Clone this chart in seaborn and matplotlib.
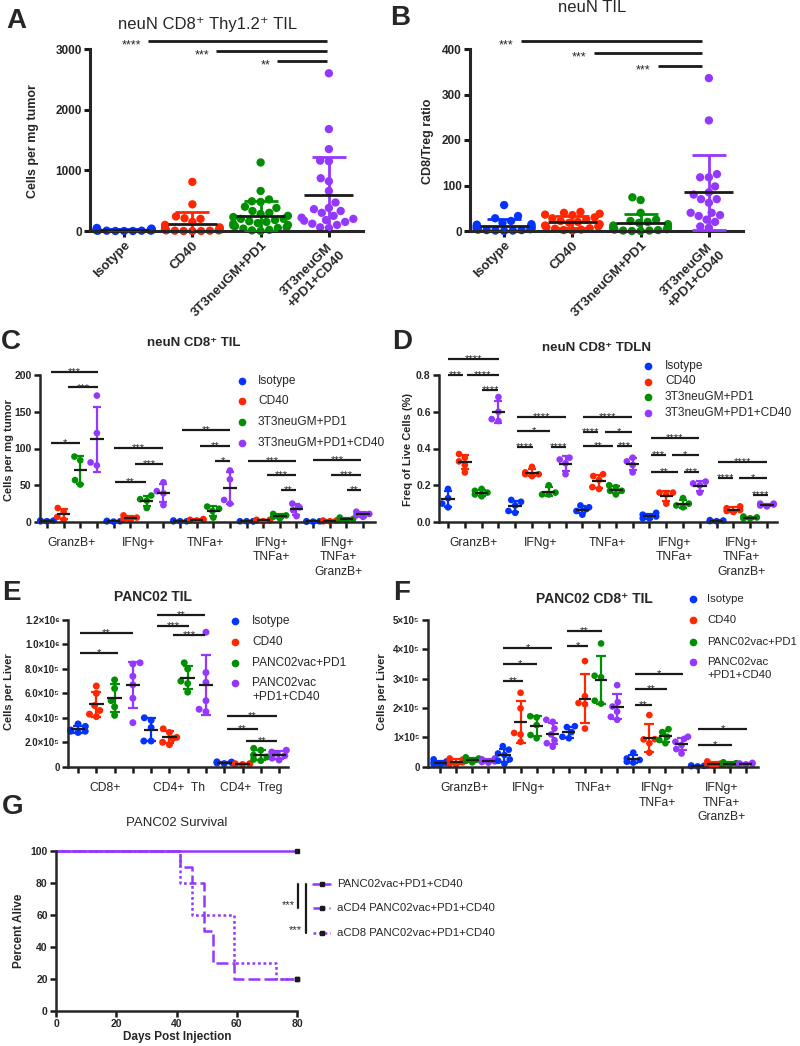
import numpy as np
import pandas as pd
import matplotlib
matplotlib.use("Agg")
import matplotlib.pyplot as plt
from matplotlib.lines import Line2D
import seaborn as sns

sns.set_theme(style="ticks")
plt.rcParams["font.family"] = ["Liberation Sans", "DejaVu Sans"]

W, H = 800, 1046
BLUE, RED, GREEN, PURPLE = "#0433FF", "#FF2600", "#008F00", "#9437FF"

# ---------------------------------------------------------------
# data
# ---------------------------------------------------------------
A_groups = ["Isotype", "CD40", "3T3neuGM+PD1", "3T3neuGM\n+PD1+CD40"]
A_iso = [50, 40, 35, 30, 30, 25, 20, 20, 15, 15, 10, 10, 10, 5, 5, 5, 0, 0, 0, 20, 25, 15]
A_cd40 = [810, 440, 240, 210, 200, 150, 100, 60, 50, 40, 30, 20, 20, 10, 10, 5, 5, 0, 0, 0]
A_pd1 = [1130, 660, 520, 490, 480, 400, 380, 330, 300, 280, 250, 230, 200, 200, 180,
         160, 150, 130, 120, 100, 90, 80, 60, 50, 40, 20, 10, 0]
A_combo = [2600, 1680, 1350, 1160, 1150, 870, 820, 660, 470, 380, 360, 330, 300, 250,
           220, 200, 180, 170, 150, 120, 100, 60, 50]
A_sig = [(0.35, 2.97, 3133, "****"), (1.35, 2.97, 2962, "***"), (2.24, 2.97, 2797, "**")]

B_iso = [57, 33, 28, 22, 18, 15, 14, 12, 10, 10, 8, 8, 6, 5, 5, 4, 3, 2, 2, 1, 1, 0]
B_cd40 = [42, 40, 38, 36, 35, 30, 28, 25, 22, 20, 18, 15, 12, 10, 8, 6, 5, 3, 2, 1]
B_pd1 = [74, 68, 40, 25, 22, 20, 18, 15, 12, 10, 8, 6, 5, 4, 3, 2, 1, 1, 0, 0]
B_combo = [336, 243, 125, 118, 118, 98, 85, 80, 70, 70, 62, 40, 40, 35, 33, 25, 20, 10, 7]
B_sig = [(0.24, 2.9, 418, "***"), (1.31, 2.9, 391, "***"), (2.25, 2.9, 363, "***")]

neu_treat = ["Isotype", "CD40", "3T3neuGM+PD1", "3T3neuGM+PD1+CD40"]
cyto_sets = ["GranzB+", "IFNg+", "TNFa+", "IFNg+\nTNFa+", "IFNg+\nTNFa+\nGranzB+"]

C_iso = [[1, 2, 1, 2], [1, 1, 0.5, 1.5], [1, 1, 2, 1], [1, 1, 1, 1], [0.5, 1, 0.5, 1]]
C_cd40 = [[19, 14, 7, 3], [9, 6, 4, 3], [2, 3, 4, 3, 2], [2, 3, 2, 3, 1], [1, 2, 1, 2]]
C_pd1 = [[89, 84, 57, 51], [36, 31, 29, 19], [21, 18, 15, 6], [11, 9, 7, 5], [6, 4, 3, 2]]
C_combo = [[172, 121, 81, 77], [54, 42, 39, 23], [70, 58, 30, 25], [25, 20, 16, 8], [14, 11, 9, 7]]
C_sig = [(0.22, 3.08, 204.5, "***"), (1.24, 3.08, 183, "***"), (0.22, 1.98, 107, "*"),
         (4.0, 7.0, 101, "***"), (5.29, 7.0, 79, "***"), (4.09, 5.95, 55, "**"),
         (8.12, 11.0, 125, "**"), (9.2, 11.0, 104, "**"), (10.1, 11.0, 83, "*"),
         (12.09, 14.97, 83, "***"), (13.2, 14.97, 64, "***"), (14.07, 14.97, 43, "**"),
         (15.97, 18.9, 84.5, "***"), (17.1, 18.9, 64, "***"), (18.04, 18.9, 43, "**")]

D_iso = [[0.18, 0.13, 0.10, 0.08], [0.12, 0.11, 0.09, 0.05, 0.06], [0.09, 0.08, 0.07, 0.06, 0.04],
         [0.05, 0.04, 0.03, 0.02, 0.02], [0.01, 0.008, 0.005, 0.004]]
D_cd40 = [[0.37, 0.35, 0.33, 0.31, 0.27], [0.30, 0.27, 0.26, 0.25, 0.26], [0.26, 0.25, 0.23, 0.19, 0.18],
          [0.16, 0.16, 0.15, 0.10], [0.085, 0.075, 0.065, 0.06, 0.055]]
D_pd1 = [[0.18, 0.17, 0.16, 0.14, 0.15], [0.20, 0.16, 0.15, 0.15], [0.20, 0.19, 0.17, 0.15, 0.17],
         [0.13, 0.10, 0.09, 0.08], [0.03, 0.025, 0.02, 0.02]]
D_combo = [[0.68, 0.60, 0.56, 0.55], [0.35, 0.34, 0.32, 0.26], [0.35, 0.33, 0.31, 0.27],
           [0.22, 0.21, 0.20, 0.16], [0.10, 0.10, 0.09, 0.085, 0.095]]
D_sig = [(0.0, 3.03, 0.888, "****"), (0.0, 0.9, 0.801, "***"), (1.13, 3.03, 0.801, "****"),
         (2.05, 3.0, 0.719, "****"),
         (4.1, 7.03, 0.570, "****"), (4.1, 6.08, 0.496, "*"), (4.1, 5.06, 0.409, "****"),
         (6.13, 7.03, 0.409, "****"),
         (8.04, 10.96, 0.570, "****"), (8.04, 8.93, 0.489, "****"), (9.35, 10.96, 0.489, "*"),
         (8.04, 9.83, 0.414, "**"), (10.07, 10.96, 0.414, "***"),
         (12.09, 14.95, 0.456, "****"), (12.09, 13.0, 0.365, "***"), (13.34, 14.95, 0.365, "*"),
         (12.09, 13.7, 0.274, "**"), (14.06, 14.95, 0.274, "***"),
         (16.08, 19.0, 0.329, "****"), (16.08, 16.97, 0.238, "****"), (17.33, 19.0, 0.238, "*"),
         (18.17, 19.05, 0.148, "****")]

panc_treat = ["Isotype", "CD40", "PANC02vac+PD1", "PANC02vac\n+PD1+CD40"]
E_sets = ["CD8+", "CD4+  Th", "CD4+  Treg"]
E_iso = [[3.5e5, 3.3e5, 3.0e5, 2.9e5, 2.8e5, 2.9e5], [4.0e5, 3.8e5, 3.2e5, 2.1e5, 2.1e5],
         [4.0e4, 3.5e4, 3.0e4, 2.5e4, 3.8e4]]
E_cd40 = [[6.6e5, 6.0e5, 5.0e5, 4.6e5, 4.3e5, 4.1e5], [3.1e5, 2.8e5, 2.4e5, 2.3e5, 2.0e5, 1.8e5],
          [2.5e4, 2.0e4, 2.2e4, 2.4e4, 1.8e4]]
E_pd1 = [[7.1e5, 6.4e5, 5.4e5, 4.9e5, 4.2e5], [8.5e5, 8.0e5, 7.0e5, 6.8e5, 6.1e5],
         [1.5e5, 1.35e5, 0.95e5, 0.8e5, 0.6e5, 0.5e5]]
E_combo = [[8.5e5, 8.4e5, 7.4e5, 6.7e5, 5.6e5, 3.6e5], [1.1e6, 7.7e5, 6.9e5, 5.4e5, 4.7e5, 4.5e5],
           [1.35e5, 1.2e5, 1.1e5, 0.9e5, 0.7e5, 0.55e5]]
E_yticks = [0, 2e5, 4e5, 6e5, 8e5, 1e6, 1.2e6]
E_ylabels = ["0", "2.0×10⁵", "4.0×10⁵", "6.0×10⁵", "8.0×10⁵", "1.0×10⁶", "1.2×10⁶"]
E_sig = [(0.1, 3.0, 1.096e6, "**"), (0.1, 2.19, 0.933e6, "*"),
         (4.32, 6.95, 1.241e6, "**"), (4.32, 6.08, 1.151e6, "***"), (5.2, 6.95, 1.077e6, "***"),
         (8.16, 10.9, 4.15e5, "**"), (8.16, 9.85, 3.06e5, "**"), (9.2, 10.9, 2.13e5, "**")]

F_iso = [[2.5e4, 1.8e4, 1.2e4, 0.8e4, 0.5e4, 1.5e4], [7.0e4, 5.8e4, 4.5e4, 4.0e4, 2.5e4, 2.0e4, 1.0e4],
         [1.38e5, 1.35e5, 1.18e5, 1.02e5, 0.97e5], [4.8e4, 2.8e4, 2.3e4, 1.7e4, 1.4e4], [4e3, 2e3, 3e3, 1e3]]
F_cd40 = [[2.8e4, 2.4e4, 1.9e4, 1.5e4, 1.0e4, 0.8e4], [2.52e5, 1.99e5, 1.15e5, 1.1e5, 0.85e5],
          [3.6e5, 2.4e5, 2.17e5, 2.13e5, 1.3e5], [1.76e5, 0.93e5, 0.94e5, 0.8e5, 0.48e5],
          [1.8e4, 1.0e4, 0.5e4, 0.3e4]]
F_pd1 = [[3.2e4, 2.8e4, 2.4e4, 2.0e4, 1.5e4], [1.72e5, 1.68e5, 1.42e5, 1.08e5, 0.97e5],
         [4.2e5, 3.1e5, 3.05e5, 2.25e5, 2.15e5], [1.28e5, 1.18e5, 1.02e5, 0.91e5, 0.8e5],
         [1.5e4, 1.2e4, 0.8e4, 0.5e4]]
F_combo = [[2.8e4, 2.5e4, 2.2e4, 2.0e4, 1.8e4, 1.6e4, 1.4e4],
           [1.6e5, 1.53e5, 1.3e5, 1.1e5, 0.9e5, 0.8e5, 0.68e5],
           [2.78e5, 2.2e5, 2.05e5, 1.88e5, 1.7e5, 1.6e5],
           [1.02e5, 0.95e5, 0.85e5, 0.74e5, 0.6e5, 0.45e5], [1.3e4, 1.1e4, 1.0e4, 0.8e4, 0.9e4]]
F_yticks = [0, 1e5, 2e5, 3e5, 4e5, 5e5]
F_ylabels = ["0", "1×10⁵", "2×10⁵", "3×10⁵", "4×10⁵", "5×10⁵"]
F_sig = [(3.91, 6.96, 4.03e5, "*"), (3.91, 6.02, 3.5e5, "*"), (3.91, 5.16, 2.93e5, "**"),
         (7.89, 10.06, 4.63e5, "**"), (7.89, 9.19, 4.13e5, "*"),
         (12.11, 15.09, 3.16e5, "*"), (12.11, 14.1, 2.64e5, "**"), (12.11, 13.17, 2.1e5, "**"),
         (16.02, 19.07, 1.27e5, "*"), (16.02, 18.14, 0.74e5, "*")]

G_labels = ["PANC02vac+PD1+CD40", "aCD4 PANC02vac+PD1+CD40", "aCD8 PANC02vac+PD1+CD40"]
G_days = [[0, 80], [0, 41, 45, 49, 52, 59, 80], [0, 41, 45, 59, 73, 80]]
G_pct = [[100, 100], [100, 90, 80, 50, 30, 20, 20], [100, 80, 60, 30, 20, 20]]

# ---------------------------------------------------------------
# helpers
# ---------------------------------------------------------------
fig = plt.figure(figsize=(W / 100, H / 100), dpi=100)


def make_axes(x0, x1, y_top, y_zero, y_ref, v_ref, xlim, spine_top, lw):
    ax = fig.add_axes([x0 / W, 1 - y_zero / H, (x1 - x0) / W, (y_zero - y_top) / H])
    ax.set_xlim(xlim)
    ax.set_ylim(0, v_ref * (y_zero - y_top) / (y_zero - y_ref))
    sns.despine(ax=ax)
    ax.set_facecolor("none")
    for s in ("left", "bottom"):
        ax.spines[s].set_linewidth(lw)
    ax.spines["left"].set_bounds(0, spine_top)
    ax.tick_params(width=lw, length=4, pad=2, color="k")
    return ax


def long_df(lists, treatments, n_per_set):
    rows = []
    for t, per_set in enumerate(lists):
        for s, vals in enumerate(per_set):
            rows += [(s * n_per_set + t, treatments[t], v) for v in vals]
    return pd.DataFrame(rows, columns=["pos", "treatment", "value"])


def dots(ax, df, palette, size, mean_half, capsize, lw):
    sns.swarmplot(data=df, x="pos", y="value", hue="treatment", palette=palette,
                  native_scale=True, size=size, legend=False, ax=ax, zorder=2, linewidth=0)
    for c in ax.collections:
        c.set_clip_on(False)
    stats = df.groupby("pos").agg(mean=("value", "mean"), sd=("value", "std"),
                                  treatment=("treatment", "first"))
    for pos, r in stats.iterrows():
        ax.errorbar(pos, r["mean"], yerr=r["sd"], color=palette[r["treatment"]],
                    capsize=capsize, elinewidth=lw, capthick=lw, zorder=3)
        ax.plot([pos - mean_half, pos + mean_half], [r["mean"]] * 2, color="k", lw=lw,
                zorder=4, solid_capstyle="butt")
    ax.set_xlabel("")
    ax.set_ylabel("")


def sig_left(ax, bars, lw, fs):
    for x0, x1, y, lab in bars:
        ax.plot([x0, x1], [y, y], color="k", lw=lw, clip_on=False, solid_capstyle="butt")
        ax.annotate(lab, (x0, y), xytext=(-5, -fs * 0.6), textcoords="offset points",
                    ha="right", va="baseline", fontsize=fs)


def sig_above(ax, bars, lw, fs):
    for x0, x1, y, lab in bars:
        ax.plot([x0, x1], [y, y], color="k", lw=lw, clip_on=False, solid_capstyle="butt")
        ax.annotate(lab, ((x0 + x1) / 2, y), xytext=(0, -fs * 0.28), textcoords="offset points",
                    ha="center", va="baseline", fontsize=fs)


def ftext(x, y, s, **kw):
    kw.setdefault("va", "center")
    return fig.text(x / W, 1 - y / H, s, **kw)


def dot_legend(xm, xt, ys, labels, colors, fs, ms, gap=14):
    for y, lab, col in zip(ys, labels, colors):
        fig.add_artist(Line2D([xm / W], [1 - y / H], marker="o", ms=ms, color=col, ls="none"))
        for k, line in enumerate(lab.split("\n")):
            ftext(xt, y + k * gap, line, fontsize=fs)


def group_labels(ax, sets, per, y_px, fs, gap=14.5):
    for s, lab in enumerate(sets):
        cx = s * per + (per - 1) / 2
        for k, line in enumerate(lab.split("\n")):
            ax.annotate(line, (cx, H - (y_px + k * gap)), xycoords=("data", "figure pixels"),
                        ha="center", va="center", fontsize=fs, annotation_clip=False)


pal_neu = dict(zip(neu_treat, [BLUE, RED, GREEN, PURPLE]))
pal_panc = dict(zip(panc_treat, [BLUE, RED, GREEN, PURPLE]))

# ---------------------------------------------------------------
# A
# ---------------------------------------------------------------
ax = make_axes(90, 363, 30, 231, 49, 3000, (-0.5, 3.5), 3000, 2.2)
dfA = long_df([[A_iso], [A_cd40], [A_pd1], [A_combo]], A_groups, 1)
dots(ax, dfA, dict(zip(A_groups, [BLUE, RED, GREEN, PURPLE])), 6, 0.36, 12, 2)
ax.set_yticks([0, 1000, 2000, 3000], ["0", "1000", "2000", "3000"], fontweight="bold", fontsize=8.5)
ax.set_xticks(range(4), A_groups, rotation=45, ha="right", rotation_mode="anchor",
              fontweight="bold", fontsize=9.5, multialignment="center")
sig_left(ax, A_sig, 2, 9)
ftext(33, 141, "Cells per mg tumor", rotation=90, ha="center", fontweight="bold", fontsize=9)
ftext(208, 25, "neuN CD8⁺ Thy1.2⁺ TIL", ha="center", fontsize=12)
ftext(6, 21, "A", fontweight="bold", fontsize=20)

# ---------------------------------------------------------------
# B
# ---------------------------------------------------------------
ax = make_axes(470, 743, 30, 231, 49, 400, (-0.5, 3.5), 400, 2.2)
dfB = long_df([[B_iso], [B_cd40], [B_pd1], [B_combo]], A_groups, 1)
dots(ax, dfB, dict(zip(A_groups, [BLUE, RED, GREEN, PURPLE])), 6, 0.36, 12, 2)
ax.set_yticks([0, 100, 200, 300, 400], ["0", "100", "200", "300", "400"],
              fontweight="bold", fontsize=8.5)
ax.set_xticks(range(4), A_groups, rotation=45, ha="right", rotation_mode="anchor",
              fontweight="bold", fontsize=9.5, multialignment="center")
sig_left(ax, B_sig, 2, 9)
ftext(428, 141, "CD8/Treg ratio", rotation=90, ha="center", fontweight="bold", fontsize=9)
ftext(592, 8, "neuN TIL", ha="center", fontsize=12)
ftext(390, 18, "B", fontweight="bold", fontsize=20)

# ---------------------------------------------------------------
# C
# ---------------------------------------------------------------
ax = make_axes(40, 375, 365, 522, 375, 200, (-0.42, 19.72), 200, 1.8)
dfC = long_df([C_iso, C_cd40, C_pd1, C_combo], neu_treat, 4)
dots(ax, dfC, pal_neu, 4.8, 0.4, 3, 1.6)
ax.set_yticks([0, 50, 100, 150, 200], ["0", "50", "100", "150", "200"], fontweight="bold", fontsize=7.5)
ax.set_xticks(range(20), [""] * 20)
sig_above(ax, C_sig, 1.6, 8)
group_labels(ax, cyto_sets, 4, 543, 8.7)
dot_legend(242, 258, [381, 401.5, 422, 442.5], neu_treat, [BLUE, RED, GREEN, PURPLE], 8.6, 4.5)
ftext(9, 450, "Cells per mg tumor", rotation=90, ha="center", fontweight="bold", fontsize=8)
ftext(194, 343, "neuN CD8⁺ TIL", ha="center", fontweight="bold", fontsize=9.5)
ftext(1, 342, "C", fontweight="bold", fontsize=20)

# ---------------------------------------------------------------
# D
# ---------------------------------------------------------------
ax = make_axes(439, 777, 352, 522, 375, 0.8, (-0.54, 19.6), 0.8, 1.8)
dfD = long_df([D_iso, D_cd40, D_pd1, D_combo], neu_treat, 4)
dots(ax, dfD, pal_neu, 4.8, 0.4, 3, 1.6)
ax.set_yticks([0, 0.2, 0.4, 0.6, 0.8], ["0.0", "0.2", "0.4", "0.6", "0.8"],
              fontweight="bold", fontsize=7.5)
ax.set_xticks(range(20), [""] * 20)
sig_above(ax, D_sig, 1.6, 8)
group_labels(ax, cyto_sets, 4, 543, 8.7)
dot_legend(648, 665, [366, 381.5, 397, 413], neu_treat, [BLUE, RED, GREEN, PURPLE], 8.6, 4.5)
ftext(408, 450, "Freq of Live Cells (%)", rotation=90, ha="center", fontweight="bold", fontsize=8)
ftext(597, 348, "neuN CD8⁺ TDLN", ha="center", fontweight="bold", fontsize=9.5)
ftext(392, 342, "D", fontweight="bold", fontsize=20)

# ---------------------------------------------------------------
# E
# ---------------------------------------------------------------
ax = make_axes(68, 288, 610, 766.7, 620, 1.2e6, (-0.55, 11.49), 1.2e6, 1.8)
dfE = long_df([E_iso, E_cd40, E_pd1, E_combo], panc_treat, 4)
dots(ax, dfE, pal_panc, 5, 0.4, 3.5, 1.6)
ax.set_yticks(E_yticks, E_ylabels, fontweight="bold", fontsize=7)
ax.set_xticks(range(12), [""] * 12)
sig_above(ax, E_sig, 1.6, 8)
group_labels(ax, E_sets, 4, 788, 8.7)
dot_legend(235, 252, [620.7, 641.7, 662.7, 683], panc_treat, [BLUE, RED, GREEN, PURPLE], 8.6, 4.5)
ftext(9, 692, "Cells per Liver", rotation=90, ha="center", fontweight="bold", fontsize=8)
ftext(153, 597, "PANC02 TIL", ha="center", fontweight="bold", fontsize=10)
ftext(2, 593, "E", fontweight="bold", fontsize=20)

# ---------------------------------------------------------------
# F
# ---------------------------------------------------------------
ax = make_axes(428, 758, 620, 766.7, 620, 5e5, (-0.75, 19.75), 5e5, 1.8)
dfF = long_df([F_iso, F_cd40, F_pd1, F_combo], panc_treat, 4)
dots(ax, dfF, pal_panc, 4.8, 0.4, 3.5, 1.6)
ax.set_yticks(F_yticks, F_ylabels, fontweight="bold", fontsize=7)
ax.set_xticks(range(20), [""] * 20)
sig_above(ax, F_sig, 1.6, 8)
group_labels(ax, cyto_sets, 4, 788, 8.7)
dot_legend(693, 707, [599, 620, 642, 662], panc_treat, [BLUE, RED, GREEN, PURPLE], 8.2, 4.5, gap=13)
ftext(382, 692, "Cells per Liver", rotation=90, ha="center", fontweight="bold", fontsize=8)
ftext(594, 599, "PANC02 CD8⁺ TIL", ha="center", fontweight="bold", fontsize=10)
ftext(393, 593, "F", fontweight="bold", fontsize=20)

# ---------------------------------------------------------------
# G
# ---------------------------------------------------------------
ax = make_axes(56, 297, 851, 1011, 851, 100, (0, 80), 100, 1.8)
styles = ["-", (0, (4.8, 1.6)), (0, (1.1, 1.1))]
for days, pct, ls in zip(G_days, G_pct, styles):
    sns.lineplot(x=days, y=pct, drawstyle="steps-post", color=PURPLE, lw=1.8, linestyle=ls,
                 ax=ax, clip_on=False)
    ax.plot(days[-1], pct[-1], "s", color="k", ms=2.5, clip_on=False, zorder=5)
ax.set_yticks([0, 20, 40, 60, 80, 100], ["0", "20", "40", "60", "80", "100"],
              fontweight="bold", fontsize=7.5)
ax.set_xticks([0, 20, 40, 60, 80], ["0", "20", "40", "60", "80"], fontweight="bold", fontsize=7.5)
ax.set_ylabel("Percent Alive", fontweight="bold", fontsize=8.5, labelpad=4)
ftext(177, 1037, "Days Post Injection", ha="center", fontweight="bold", fontsize=8.5)
for y, lab, ls in zip([884, 908, 933], G_labels, styles):
    fig.add_artist(Line2D([313 / W, 330 / W], [1 - y / H] * 2, color=PURPLE, lw=1.8, ls=ls))
    fig.add_artist(Line2D([321.5 / W], [1 - y / H], marker="s", ms=2.5, color="k", ls="none"))
    ftext(337, y, lab, fontsize=8.2)
fig.add_artist(Line2D([298 / W] * 2, [1 - 884 / H, 1 - 908 / H], color="k", lw=1.6))
fig.add_artist(Line2D([306 / W] * 2, [1 - 884 / H, 1 - 933 / H], color="k", lw=1.6))
ftext(295, 905, "***", ha="right", fontsize=8)
ftext(302, 930, "***", ha="right", fontsize=8)
ftext(177, 823, "PANC02 Survival", ha="center", fontsize=9.5)
ftext(2, 807, "G", fontweight="bold", fontsize=20)

fig.savefig("out.png", dpi=100)
